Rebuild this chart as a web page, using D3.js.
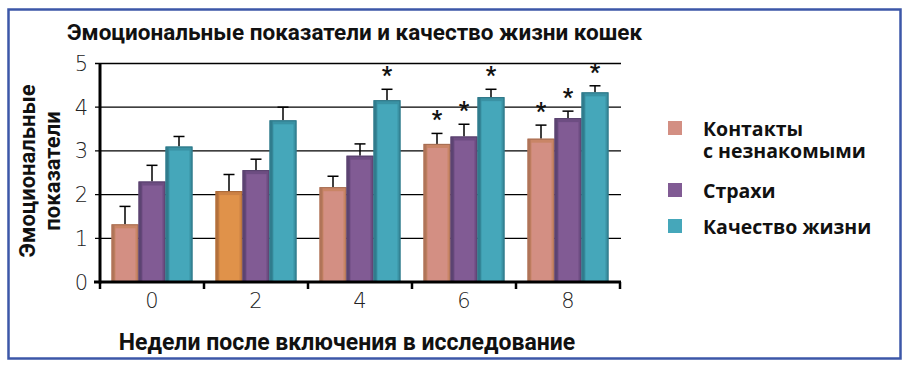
<!DOCTYPE html>
<html lang="ru">
<head>
    <meta charset="UTF-8">
    <title>Эмоциональные показатели и качество жизни кошек</title>
    <script src="https://d3js.org/d3.v7.min.js"></script>
    <style>
        body { margin: 0; padding: 0; background: #ffffff; }
        svg { display: block; }
        .bold-text { font-family: Roboto, "Open Sans", sans-serif; font-weight: 700; fill: #111; }
        .legend-text { font-family: "Open Sans", Roboto, sans-serif; font-weight: 700; fill: #111; }
        .tick-text { font-family: "DejaVu Sans", sans-serif; font-weight: 200; fill: #222; font-size: 21px; }
    </style>
</head>
<body>
<div id="chart"></div>
<script>
    // data
    const weeks = ["0", "2", "4", "6", "8"];
    const seriesNames = ["Контакты с незнакомыми", "Страхи", "Качество жизни"];
    const contacts = [1.32, 2.08, 2.17, 3.16, 3.28];
    const contactsErr = [1.73, 2.46, 2.42, 3.40, 3.59];
    const fears = [2.30, 2.56, 2.89, 3.33, 3.75];
    const fearsErr = [2.67, 2.81, 3.16, 3.61, 3.91];
    const quality = [3.10, 3.70, 4.16, 4.23, 4.34];
    const qualityErr = [3.33, 4.00, 4.41, 4.41, 4.49];
    // asterisks: [week index, series index]
    const stars = [[2, 2], [3, 0], [3, 1], [3, 2], [4, 0], [4, 1], [4, 2]];
    // the orange bar at week 2
    const orangeBars = [[1, 0]];
    const yTicks = [0, 1, 2, 3, 4, 5];

    const width = 909, height = 365;
    const plot = { left: 100, right: 620, top: 63.5, bottom: 282 };

    const palette = [
        { face: "#d38f83", bevel: "#c98566", edge: "#a56d52" },
        { face: "#815b94", bevel: "#6d4d82", edge: "#56406b" },
        { face: "#45a7ba", bevel: "#3a92a4", edge: "#2c7383" }
    ];
    const orange = { face: "#e0924a", bevel: "#cd8244", edge: "#a86838" };

    const svg = d3.select("#chart").append("svg")
        .attr("width", width)
        .attr("height", height);

    svg.append("rect").attr("width", width).attr("height", height).attr("fill", "#fff");

    // frame
    svg.append("rect")
        .attr("x", 8.5).attr("y", 9.5)
        .attr("width", 892).attr("height", 349)
        .attr("fill", "none")
        .attr("stroke", "#3c57a8")
        .attr("stroke-width", 2.5);

    const x0 = d3.scaleBand().domain(weeks).range([plot.left, plot.right]);
    const x1 = d3.scaleBand().domain(d3.range(3)).range([11.5, 92.5]);
    const y = d3.scaleLinear().domain([0, 5]).range([plot.bottom, plot.top]);

    // gridlines
    svg.append("g").selectAll("line")
        .data(yTicks.filter(d => d > 0))
        .join("line")
        .attr("x1", plot.left - 5).attr("x2", plot.right + 1)
        .attr("y1", d => y(d)).attr("y2", d => y(d))
        .attr("stroke", "#000").attr("stroke-width", 1.3);

    // y tick labels
    svg.append("g").selectAll("text")
        .data(yTicks)
        .join("text")
        .attr("class", "tick-text")
        .attr("x", 88)
        .attr("y", d => y(d))
        .attr("dy", "0.36em")
        .attr("text-anchor", "end")
        .text(d => d);

    // bars
    const values = [contacts, fears, quality];
    const errs = [contactsErr, fearsErr, qualityErr];
    const bars = [];
    weeks.forEach((w, i) => {
        values.forEach((s, j) => {
            const isOrange = orangeBars.some(p => p[0] === i && p[1] === j);
            bars.push({ week: w, wi: i, si: j, value: s[i], err: errs[j][i],
                        col: isOrange ? orange : palette[j] });
        });
    });

    const bx = d => x0(d.week) + x1(d.si);
    const bw = x1.bandwidth();

    // error bars (behind the bars)
    const eb = svg.append("g").attr("stroke", "#000").attr("stroke-width", 1.5);
    bars.forEach(d => {
        const cx = bx(d) + bw / 2;
        eb.append("line").attr("x1", cx).attr("x2", cx).attr("y1", y(d.value)).attr("y2", y(d.err));
        eb.append("line").attr("x1", cx - 5.5).attr("x2", cx + 5.5).attr("y1", y(d.err)).attr("y2", y(d.err));
    });

    const bg = svg.append("g");
    bars.forEach(d => {
        const top = y(d.value), h = y(0) - y(d.value);
        bg.append("rect")
            .attr("x", bx(d)).attr("y", top).attr("width", bw).attr("height", h)
            .attr("fill", d.col.bevel);
        bg.append("rect")
            .attr("x", bx(d) + 0.5).attr("y", top + 0.5).attr("width", bw - 1).attr("height", h)
            .attr("fill", "none").attr("stroke", d.col.edge).attr("stroke-width", 1);
        bg.append("rect")
            .attr("x", bx(d) + 4).attr("y", top + 4).attr("width", bw - 7).attr("height", Math.max(0, h - 4))
            .attr("fill", d.col.face);
        bg.append("rect")
            .attr("x", bx(d) + 1).attr("y", top + 1).attr("width", 2).attr("height", h - 1)
            .attr("fill", d.col.edge).attr("opacity", 0.7);
    });

    // asterisks
    svg.append("g").selectAll("text")
        .data(stars)
        .join("text")
        .attr("class", "bold-text")
        .attr("x", d => x0(weeks[d[0]]) + x1(d[1]) + bw / 2)
        .attr("y", d => y(errs[d[1]][d[0]]) - 6)
        .attr("text-anchor", "middle")
        .style("font-size", "23px")
        .text("*");

    // axes
    svg.append("line")
        .attr("x1", plot.left).attr("x2", plot.left)
        .attr("y1", plot.top).attr("y2", plot.bottom + 1.5)
        .attr("stroke", "#000").attr("stroke-width", 3);
    svg.append("line")
        .attr("x1", plot.left - 6).attr("x2", plot.right + 1)
        .attr("y1", plot.bottom).attr("y2", plot.bottom)
        .attr("stroke", "#000").attr("stroke-width", 3);
    const bounds = weeks.map(w => x0(w)).concat([x0.range()[1]]);
    svg.append("g").selectAll("line")
        .data(bounds)
        .join("line")
        .attr("x1", d => d).attr("x2", d => d)
        .attr("y1", plot.bottom).attr("y2", plot.bottom + 7)
        .attr("stroke", "#000").attr("stroke-width", 2.5);

    svg.append("g").selectAll("text")
        .data(weeks)
        .join("text")
        .attr("class", "tick-text")
        .attr("x", d => x0(d) + x0.bandwidth() / 2)
        .attr("y", 308)
        .attr("text-anchor", "middle")
        .text(d => d);

    // titles
    svg.append("text")
        .attr("class", "bold-text")
        .attr("x", 67).attr("y", 40)
        .style("font-size", "22.5px")
        .text("Эмоциональные показатели и качество жизни кошек");

    svg.append("text")
        .attr("class", "bold-text")
        .attr("x", 347).attr("y", 350)
        .attr("text-anchor", "middle")
        .style("font-size", "23px")
        .text("Недели после включения в исследование");

    const yt = svg.append("text")
        .attr("class", "bold-text")
        .attr("transform", "translate(0,171) rotate(-90)")
        .attr("text-anchor", "middle")
        .style("font-size", "22px");
    yt.append("tspan").attr("x", 0).attr("y", 35).text("Эмоциональные");
    yt.append("tspan").attr("x", 0).attr("y", 60).text("показатели");

    // legend
    const legendRows = [
        { lines: ["Контакты", "с незнакомыми"], top: 121 },
        { lines: ["Страхи"], top: 183 },
        { lines: ["Качество жизни"], top: 219 }
    ];
    const lg = svg.append("g");
    legendRows.forEach((r, i) => {
        lg.append("rect")
            .attr("x", 668).attr("y", r.top)
            .attr("width", 14).attr("height", 14)
            .attr("fill", palette[i].face);
        const t = lg.append("text")
            .attr("class", "legend-text")
            .style("font-size", "19.5px");
        r.lines.forEach((l, k) => {
            t.append("tspan").attr("x", 703).attr("y", r.top + 14.5 + k * 22).text(l);
        });
    });
</script>
</body>
</html>
